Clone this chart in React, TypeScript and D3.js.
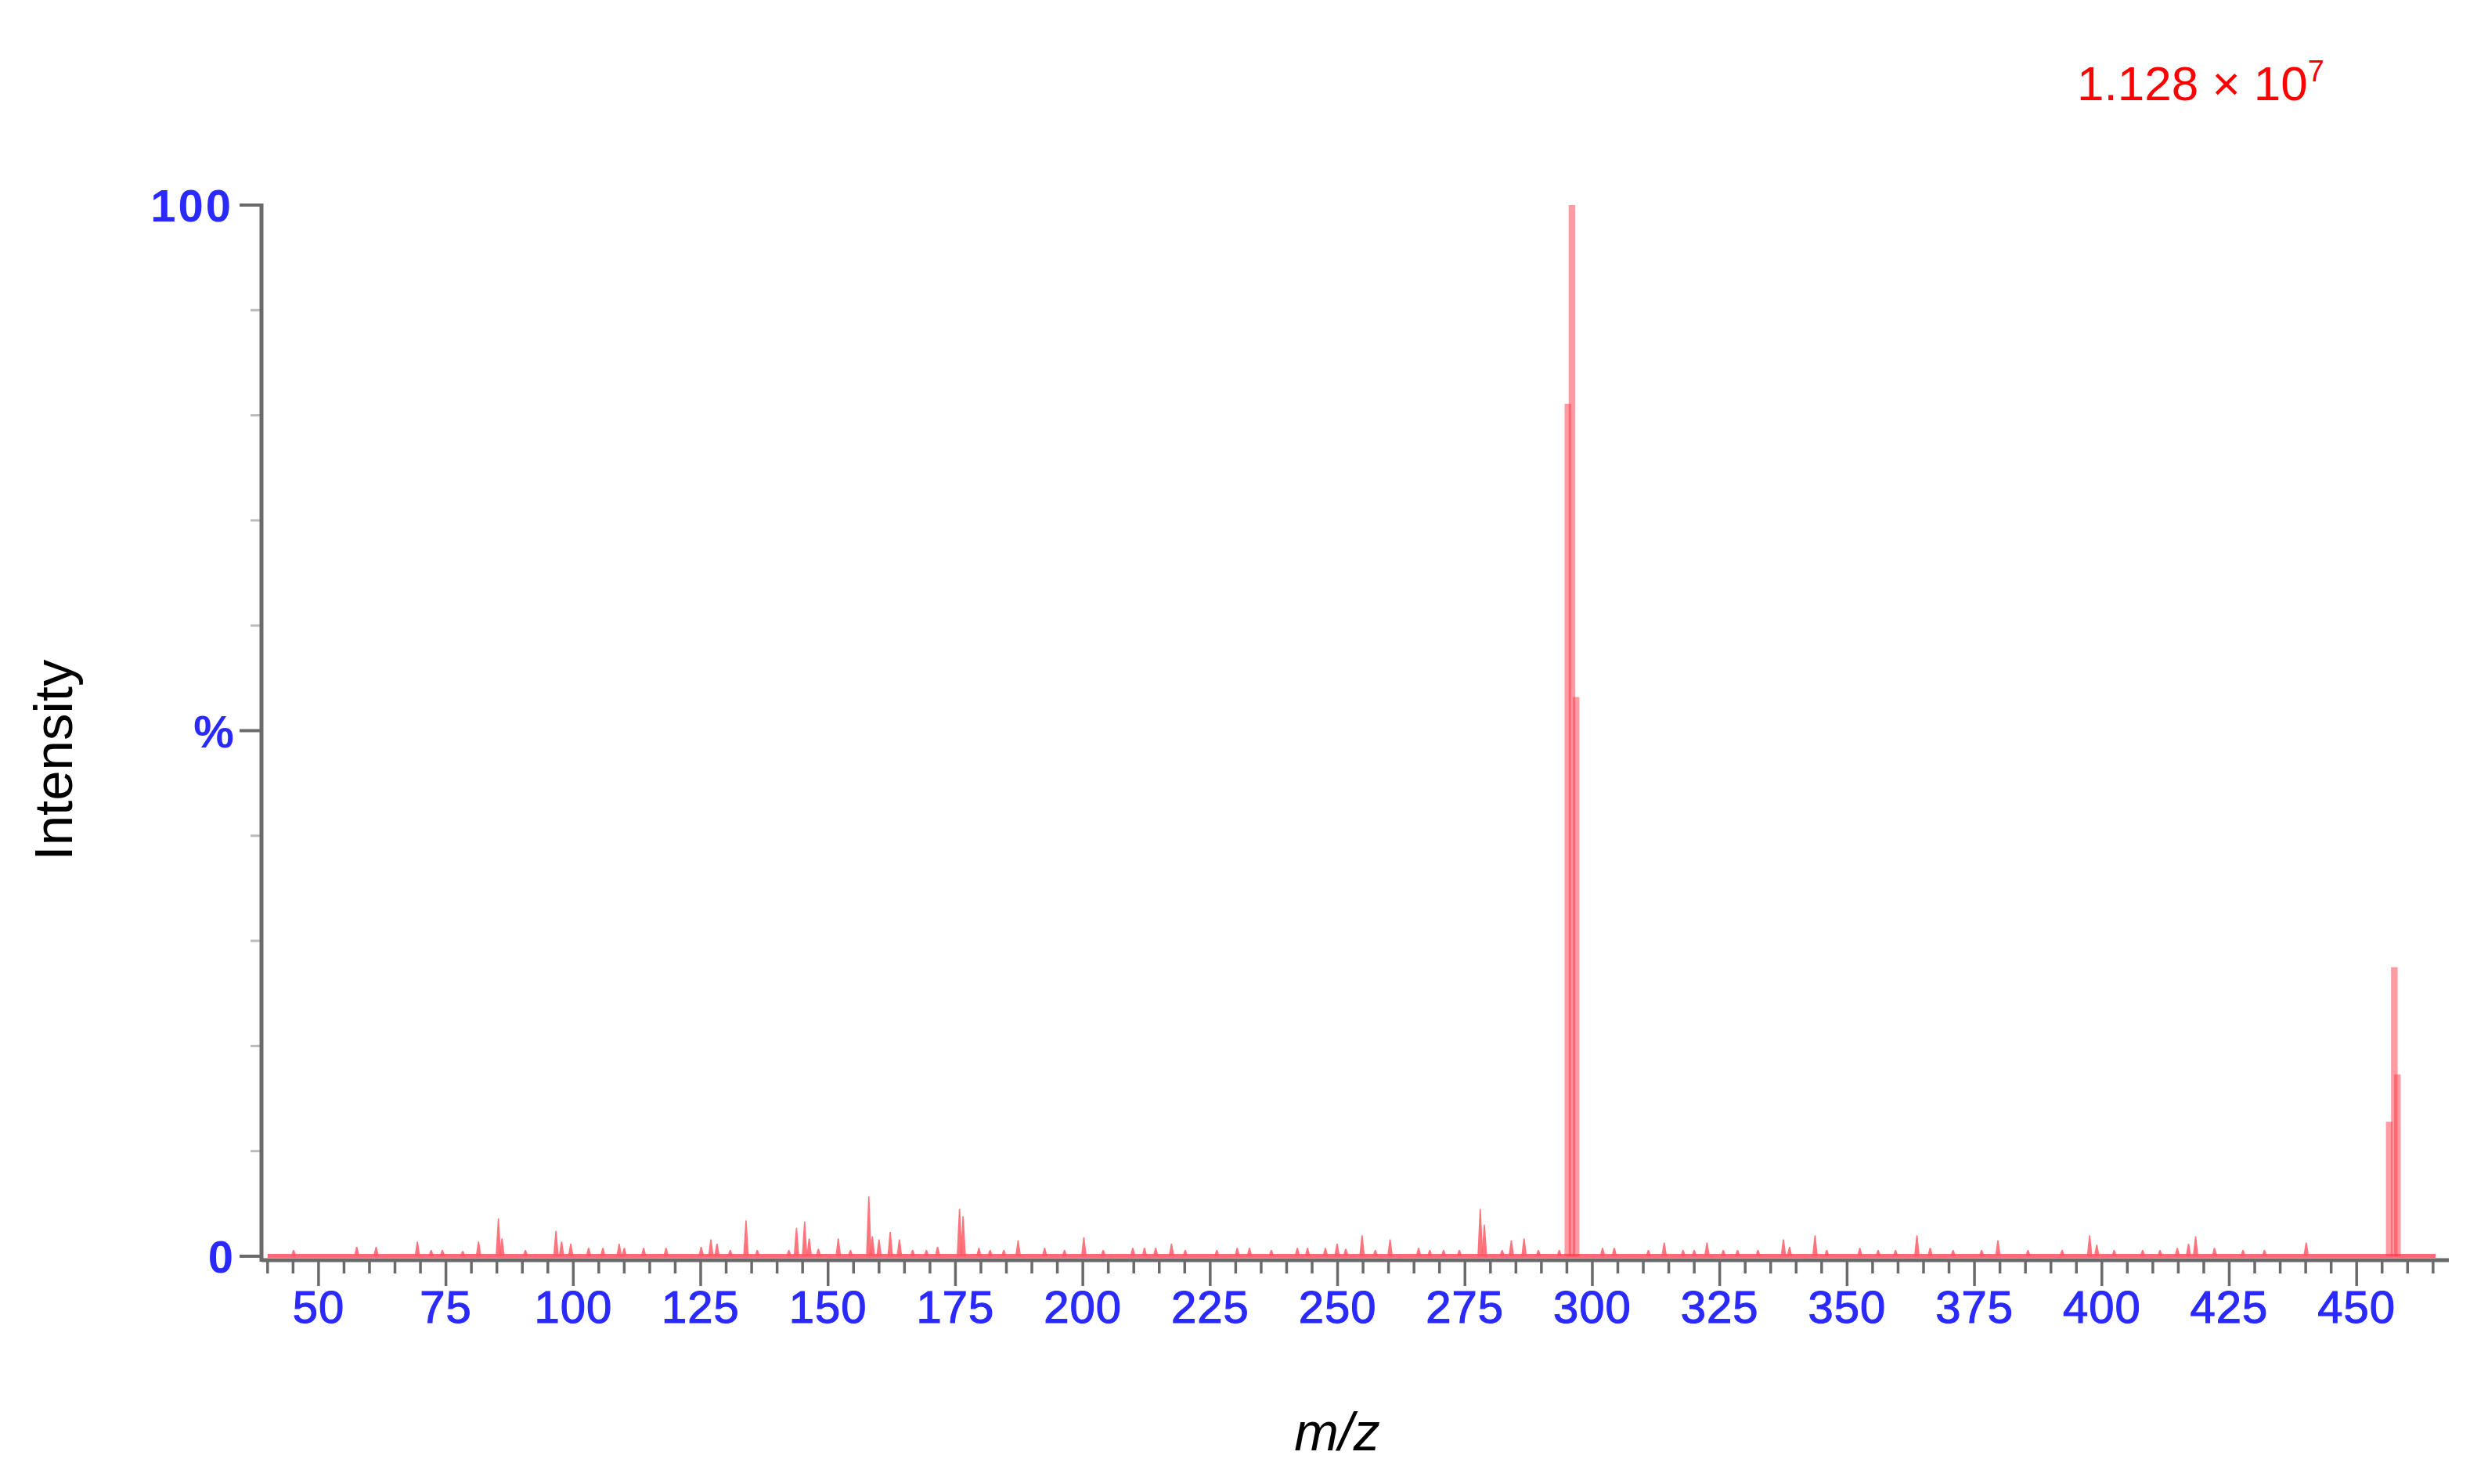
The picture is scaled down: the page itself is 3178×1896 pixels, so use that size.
import React from 'react';
import * as d3 from 'd3';

// ---- data ----
const clusterMz = [295.2, 296.0, 296.8, 456.4, 457.4, 458.0];
const clusterIntensity = [81.1, 100, 53.2, 12.8, 27.5, 17.3];

const noiseMz = [45.1, 57.5, 61.3, 69.4, 72.1, 74.3, 78.3, 81.4, 85.3, 86.0, 90.6, 96.6, 97.7, 99.5, 103, 105.8, 109, 110, 113.8, 118.2, 125.1, 127, 128.2, 130.8, 133.9, 136.1, 142.3, 143.8, 145.4, 146.3, 148.1, 152, 154.4, 158, 158.7, 160, 162.2, 164, 166.6, 169.3, 171.5, 175.8, 176.5, 179.6, 181.8, 184.5, 187.3, 192.5, 196.4, 200.2, 204, 209.8, 212.1, 214.3, 217.4, 220.1, 226.3, 230.3, 232.7, 237, 242.1, 244.1, 247.6, 249.9, 251.6, 254.8, 257.4, 260.3, 265.9, 268.1, 270.8, 273.9, 278.0, 278.8, 282.3, 284.1, 286.6, 289.4, 293.5, 302, 304.3, 311, 314.1, 317.8, 320, 322.5, 325.7, 328.5, 332.5, 337.5, 338.7, 343.7, 346, 352.5, 356.1, 359.5, 363.7, 366.3, 370.8, 376.4, 379.6, 385.5, 392.2, 397.6, 399, 402.4, 408, 411.4, 414.8, 417, 418.4, 422.1, 427.7, 431.9, 440.1];
const noiseIntensity = [0.6, 0.9, 0.9, 1.4, 0.6, 0.6, 0.5, 1.4, 3.6, 1.7, 0.6, 2.4, 1.4, 1.2, 0.8, 0.8, 1.2, 0.8, 0.8, 0.8, 0.9, 1.6, 1.2, 0.6, 3.4, 0.6, 0.6, 2.7, 3.3, 1.7, 0.7, 1.7, 0.6, 5.7, 1.9, 1.6, 2.3, 1.6, 0.6, 0.6, 0.9, 4.5, 3.8, 0.8, 0.6, 0.6, 1.5, 0.8, 0.6, 1.8, 0.6, 0.8, 0.8, 0.8, 1.2, 0.6, 0.6, 0.8, 0.8, 0.6, 0.8, 0.8, 0.8, 1.2, 0.7, 2.0, 0.6, 1.6, 0.8, 0.6, 0.6, 0.6, 4.5, 3.0, 0.6, 1.5, 1.7, 0.6, 0.6, 0.8, 0.8, 0.6, 1.3, 0.6, 0.6, 1.3, 0.6, 0.6, 0.6, 1.6, 0.9, 2.0, 0.6, 0.8, 0.6, 0.6, 2.0, 0.8, 0.6, 0.6, 1.5, 0.6, 0.6, 2.0, 1.1, 0.6, 0.6, 0.6, 0.8, 1.2, 1.9, 0.8, 0.6, 0.6, 1.3];

const xMajorTicks = [50, 75, 100, 125, 150, 175, 200, 225, 250, 275, 300, 325, 350, 375, 400, 425, 450];
const xMinorTicks = d3.range(40, 466, 5);
const yTickValues = [0, 50, 100];
const yTickLabels = ['0', '%', '100'];
const yMinorTicks = [10, 20, 30, 40, 60, 70, 80, 90];

const annotationBase = '1.128 × 10';
const annotationExp = '7';
const xTitle = 'm/z';
const yTitle = 'Intensity';

export default function App() {
  const W = 3178;
  const H = 1896;
  const x = d3.scaleLinear().domain([38.8, 468.1]).range([334, 3128]);
  const y = d3.scaleLinear().domain([0, 100]).range([1605, 262]);
  const blue = '#2a2aff';
  const axisGray = '#6a6a6a';
  const peakColor = '#ff3848';
  const font = '"Liberation Sans", Arial, sans-serif';

  const clusterW = 1.3;
  const noiseHalf = 0.55;
  const noiseTop = 0.12;

  const area = d3
    .area<[number, number]>()
    .x((d) => x(d[0]))
    .y0(y(0))
    .y1((d) => y(d[1]));

  return (
    <svg width={W} height={H} style={{ position: 'absolute', left: 0, top: 0, background: '#fff' }} fontFamily={font}>
      <rect x={0} y={0} width={W} height={H} fill="#ffffff" />

      {/* baseline red strip */}
      <rect x={x(40)} y={y(0) - 3} width={x(465.5) - x(40)} height={5} fill="#ff6a74" />

      {/* noise peaks as small profile spikes */}
      {noiseMz.map((m, i) => {
        const h = noiseIntensity[i];
        const pts: [number, number][] = [
          [m - noiseHalf, 0],
          [m - noiseTop, h],
          [m + noiseTop, h],
          [m + noiseHalf, 0],
        ];
        return <path key={'n' + i} d={area(pts) || ''} fill="#ff5a66" fillOpacity={0.85} />;
      })}

      {/* main clusters */}
      {clusterMz.map((m, i) => (
        <rect key={'c' + i} x={x(m - clusterW / 2)} y={y(clusterIntensity[i])} width={x(m + clusterW / 2) - x(m - clusterW / 2)} height={y(0) - y(clusterIntensity[i])} fill={peakColor} fillOpacity={0.5} />
      ))}

      {/* x axis */}
      <line x1={334} x2={3128} y1={1610} y2={1610} stroke={axisGray} strokeWidth={5} />
      {xMinorTicks.map((t) => (
        <line key={'xm' + t} x1={x(t)} x2={x(t)} y1={1610} y2={xMajorTicks.includes(t) ? 1643 : 1627} stroke={axisGray} strokeWidth={3.5} />
      ))}
      {xMajorTicks.map((t) => (
        <text key={'xl' + t} x={x(t)} y={1690} textAnchor="middle" fontSize={58} letterSpacing={1} fill={blue} stroke={blue} strokeWidth={1.2}>
          {t}
        </text>
      ))}

      {/* y axis */}
      <line x1={334} x2={334} y1={260} y2={1612} stroke={axisGray} strokeWidth={5} />
      {yTickValues.map((v) => (
        <line key={'yt' + v} x1={306} x2={334} y1={y(v)} y2={y(v)} stroke={axisGray} strokeWidth={4} />
      ))}
      {yMinorTicks.map((v) => (
        <line key={'ym' + v} x1={320} x2={334} y1={y(v)} y2={y(v)} stroke={axisGray} strokeWidth={3} opacity={0.45} />
      ))}
      {yTickValues.map((v, i) => (
        <text key={'yl' + v} x={yTickLabels[i] === '%' ? 273 : 298} y={y(v) + 21} textAnchor={yTickLabels[i] === '%' ? 'middle' : 'end'} fontSize={58} letterSpacing={yTickLabels[i] === '100' ? 3 : 0} fontWeight="bold" fill={blue}>
          {yTickLabels[i]}
        </text>
      ))}

      {/* axis titles */}
      <text x={1708} y={1853} textAnchor="middle" fontSize={68} fontStyle="italic" fill="#000">
        {xTitle}
      </text>
      <text transform={`translate(92, 971) rotate(-90)`} textAnchor="middle" fontSize={69} fill="#000">
        {yTitle}
      </text>

      {/* annotation */}
      <text x={2653} y={128} fontSize={62} fill="#ff0000">
        {annotationBase}
        <tspan fontSize={38} dy={-24}>{annotationExp}</tspan>
      </text>
    </svg>
  );
}
